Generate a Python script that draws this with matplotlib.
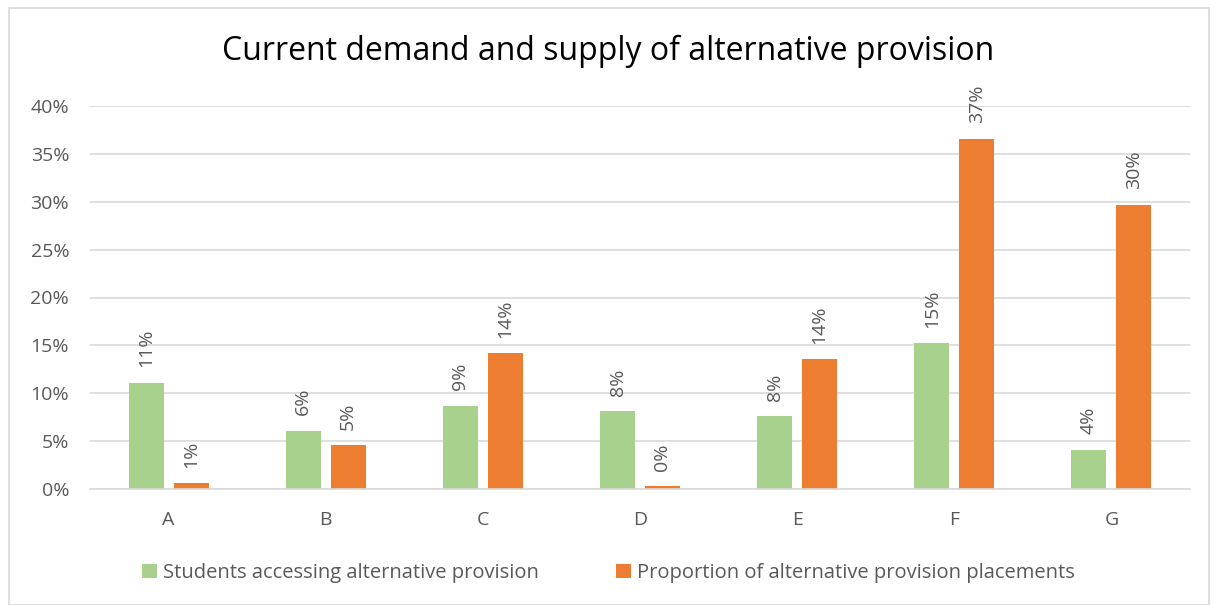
import matplotlib.pyplot as plt
import numpy as np
from matplotlib.patches import Rectangle

categories = ["A", "B", "C", "D", "E", "F", "G"]
students = [11.1, 6.1, 8.7, 8.1, 7.6, 15.2, 4.1]
placements = [0.6, 4.6, 14.2, 0.3, 13.6, 36.6, 29.7]
series_names = ["Students accessing alternative provision",
                "Proportion of alternative provision placements"]

plt.rcParams["font.family"] = ["Open Sans", "DejaVu Sans"]
text_col = "#595959"

fig = plt.figure(figsize=(12.17, 6.05), dpi=100)
ax = fig.add_axes([90 / 1217, 1 - 489 / 605, 1100 / 1217, 383 / 605])

# chart border
fig.patches.append(Rectangle((9 / 1217, 0.0), 1200 / 1217, 1 - 8 / 605,
                             transform=fig.transFigure, fill=False,
                             edgecolor="#d9d9d9", linewidth=1.2))

x = np.arange(len(categories))
w = 0.223
off = 0.143
b1 = ax.bar(x - off, students, w, color="#a9d18e", label=series_names[0])
b2 = ax.bar(x + off, placements, w, color="#ed7d31", label=series_names[1])

for bars, vals in ((b1, students), (b2, placements)):
    for rect, v in zip(bars, vals):
        ax.annotate(f"{v:.0f}%", (rect.get_x() + rect.get_width() / 2, v),
                    xytext=(0, 11), textcoords="offset points",
                    rotation=90, ha="center", va="bottom",
                    fontsize=14, color=text_col)

ax.set_xlim(-0.5, len(categories) - 0.5)
ax.set_ylim(0, 40)
ax.set_yticks(range(0, 41, 5))
ax.set_yticklabels([f"{t}%" for t in range(0, 41, 5)])
ax.set_xticks(x)
ax.set_xticklabels(categories)
ax.grid(axis="y", color="#d9d9d9", linewidth=1.2)
ax.set_axisbelow(True)
for s in ["top", "right", "left"]:
    ax.spines[s].set_visible(False)
ax.spines["bottom"].set_color("#d9d9d9")
ax.spines["bottom"].set_linewidth(1.2)
ax.tick_params(axis="both", length=0, labelsize=14, colors=text_col)
ax.tick_params(axis="x", pad=16)
ax.tick_params(axis="y", pad=15)

fig.text(0.5, 1 - 51 / 605, "Current demand and supply of alternative provision",
         ha="center", va="center", fontsize=23, color="#000000")

leg = fig.legend(loc="center", bbox_to_anchor=(0.5, 1 - 573 / 605), ncol=2,
                 frameon=False, fontsize=14.5, handlelength=0.75, handleheight=0.75,
                 handletextpad=0.3, columnspacing=3.8)
for t in leg.get_texts():
    t.set_color(text_col)

fig.savefig("out.png", dpi=100)
